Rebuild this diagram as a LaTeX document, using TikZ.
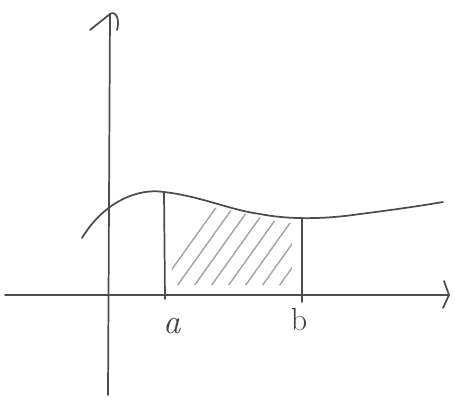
\documentclass[tikz,border=0pt]{standalone}
\begin{document}
\begin{tikzpicture}[x=0.75pt,y=-0.75pt,
  pen/.style={draw=black!70,line width=1.3pt,line cap=round,line join=round},
  hatch/.style={draw=black!35,line width=1.1pt,line cap=round},
  lbl/.style={text=black!75,font=\fontsize{24}{24}\selectfont,inner sep=0pt}]
\useasboundingbox (0,0) rectangle (455,401);
% axes
\coordinate (ybot) at (108,395);
\coordinate (ytop) at (110,14);
\coordinate (xl) at (5,295);
\coordinate (xr) at (449,295);
\draw[pen] (ybot) -- (ytop);
\draw[pen] (90,30) -- (ytop) .. controls (116,10) and (120,20) .. (117,30);
\draw[pen] (xl) -- (xr);
\draw[pen] (444,281) -- (xr) -- (443,308);
% hatching
\begin{scope}
\clip (172,205) .. controls (200,203) and (230,210) .. (250,215)
      .. controls (270,220) and (280,222) .. (292,223) -- (292,285) -- (172,285) -- cycle;
\foreach \s in {0,...,9} {
  \draw[hatch] ({150+\s*17},300) -- ({150+\s*17+75},195);
}
\end{scope}
% curve
\draw[pen] (82,238) .. controls (105,200) and (140,188) .. (164,192)
  .. controls (200,196) and (230,210) .. (260,214)
  .. controls (285,219) and (320,220) .. (360,214)
  .. controls (400,209) and (425,205) .. (443,202);
% verticals
\coordinate (atop) at (164,192);
\coordinate (abot) at (165,299);
\coordinate (btop) at (302,218);
\coordinate (bbot) at (302,302);
\draw[pen] (atop) -- (abot);
\draw[pen] (btop) -- (bbot);
% labels
\node[lbl,font=\fontsize{26}{26}\selectfont\itshape] (la) at (172,326) {a};
\node[lbl] (lb) at (299,320) {b};
\end{tikzpicture}
\end{document}
